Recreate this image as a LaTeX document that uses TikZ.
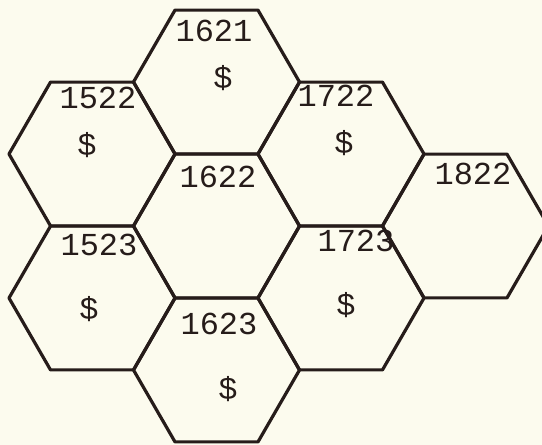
\documentclass[tikz,border=0pt]{standalone}
\usepackage{fontspec}
\setmonofont{Liberation Mono}
\usetikzlibrary{shapes.geometric}
\definecolor{paper}{RGB}{252,251,238}
\definecolor{ink}{RGB}{38,28,26}
\begin{document}
\begin{tikzpicture}[x=1pt,y=-1pt,
  hexcell/.style={regular polygon, regular polygon sides=6, minimum size=166pt,
    inner sep=0pt, outer sep=0pt, draw=ink, line width=3.2pt, line join=round},
  hexnum/.style={inner sep=0pt, text=ink, font=\ttfamily\fontsize{32}{32}\selectfont},
  money/.style={inner sep=0pt, text=ink, font=\ttfamily\fontsize{32}{32}\selectfont}]
\fill[paper] (0,0) rectangle (542,445);
\useasboundingbox (0,0) rectangle (542,445);
\clip (0,0) rectangle (542,445);
% hex cells
\node[hexcell] (h1621) at (216.5,82) {};
\node[hexcell] (h1622) at (216.5,226) {};
\node[hexcell] (h1623) at (216.5,370) {};
\node[hexcell] (h1522) at (92,154) {};
\node[hexcell] (h1523) at (92,298) {};
\node[hexcell] (h1722) at (341,154) {};
\node[hexcell] (h1723) at (341,298) {};
\node[hexcell] (h1822) at (465.5,226) {};
% numbers
\node[hexnum] (n1621) at (214,31) {1621};
\node[hexnum] (n1522) at (98,98) {1522};
\node[hexnum] (n1622) at (218,177) {1622};
\node[hexnum] (n1722) at (336,96) {1722};
\node[hexnum] (n1822) at (473,174) {1822};
\node[hexnum] (n1523) at (99,245) {1523};
\node[hexnum] (n1723) at (356,241) {1723};
\node[hexnum] (n1623) at (219,324) {1623};
% money signs
\node[money] (m1621) at (223,78) {\$};
\node[money] (m1522) at (87,145) {\$};
\node[money] (m1722) at (344,143) {\$};
\node[money] (m1523) at (89,309) {\$};
\node[money] (m1723) at (346,305) {\$};
\node[money] (m1623) at (228,389) {\$};
\end{tikzpicture}
\end{document}
